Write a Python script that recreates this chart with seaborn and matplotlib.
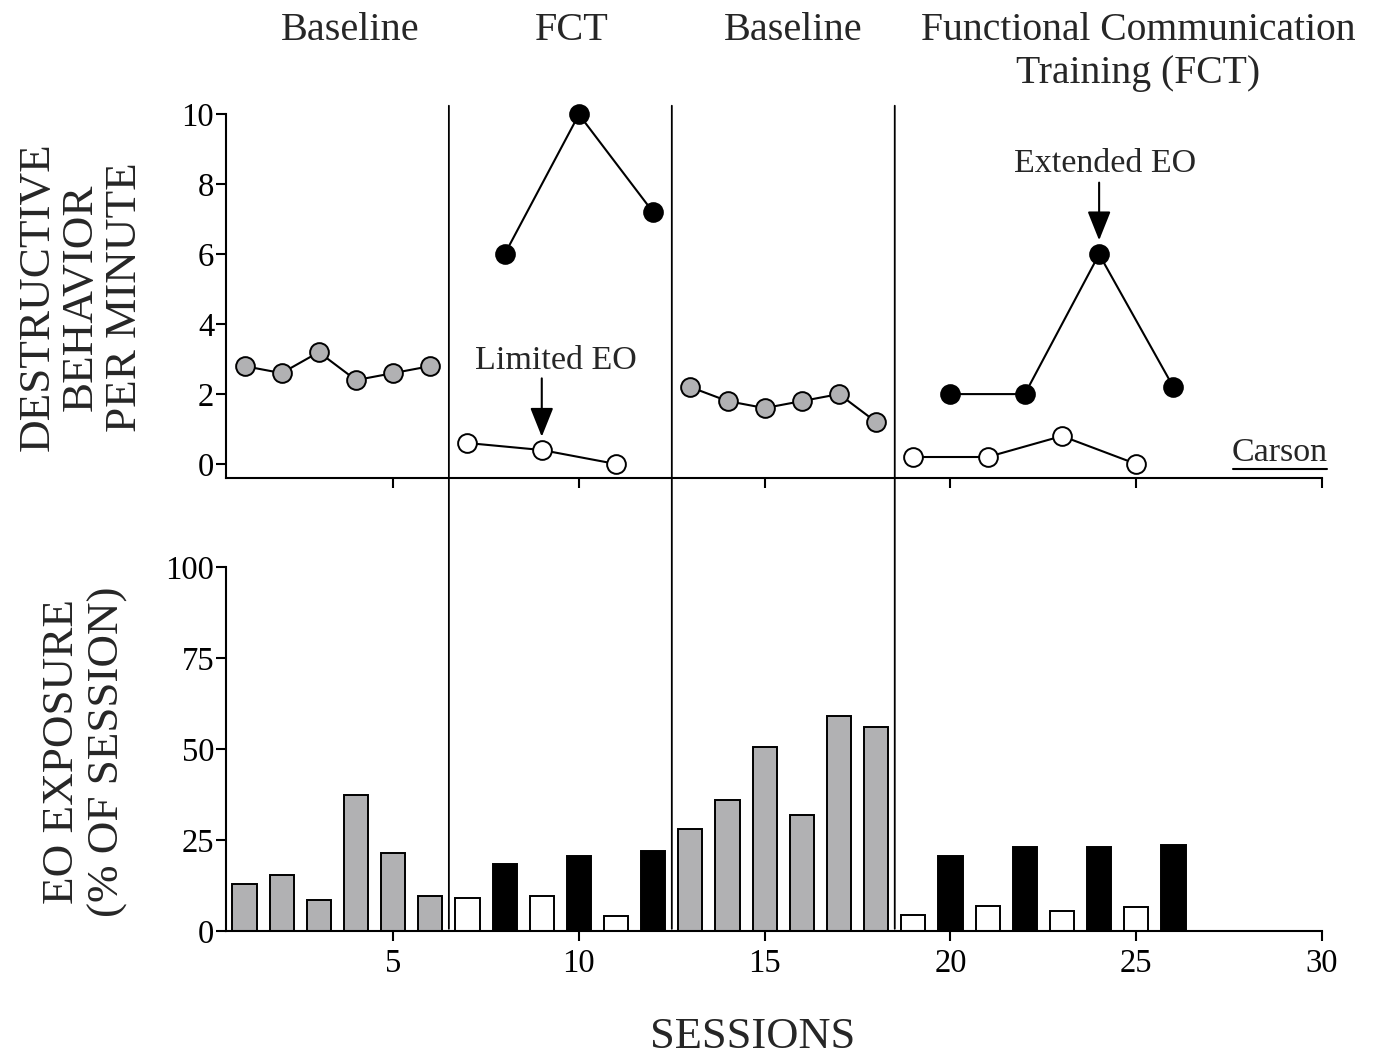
import matplotlib
matplotlib.use("Agg")
import matplotlib.pyplot as plt
import seaborn as sns
import pandas as pd
from matplotlib.patches import ConnectionPatch
from matplotlib.lines import Line2D

# ---------------- data ----------------
phase_labels = ["Baseline", "FCT", "Baseline", "Functional Communication\nTraining (FCT)"]
phase_changes = [6.5, 12.5, 18.5]

bl1_sessions = [1, 2, 3, 4, 5, 6]
bl1_rate = [2.8, 2.6, 3.2, 2.4, 2.6, 2.8]
fct1_limited_sessions = [7, 9, 11]
fct1_limited_rate = [0.6, 0.4, 0.0]
fct1_extended_sessions = [8, 10, 12]
fct1_extended_rate = [6.0, 10.0, 7.2]
bl2_sessions = [13, 14, 15, 16, 17, 18]
bl2_rate = [2.2, 1.8, 1.6, 1.8, 2.0, 1.2]
fct2_limited_sessions = [19, 21, 23, 25]
fct2_limited_rate = [0.2, 0.2, 0.8, 0.0]
fct2_extended_sessions = [20, 22, 24, 26]
fct2_extended_rate = [2.0, 2.0, 6.0, 2.2]

bar_sessions = list(range(1, 27))
bar_exposure = [13, 15.5, 8.5, 37.5, 21.5, 9.5,
                9, 18.5, 9.5, 20.5, 4, 22,
                28, 36, 50.5, 32, 59, 56,
                4.5, 20.5, 7, 23, 5.5, 23, 6.5, 23.5]
bar_condition = ["baseline"] * 6 + ["limited", "extended"] * 3 + ["baseline"] * 6 + ["limited", "extended"] * 4

x_ticks = [5, 10, 15, 20, 25, 30]
top_yticks = [0, 2, 4, 6, 8, 10]
bot_yticks = [0, 25, 50, 75, 100]

# ---------------- style ----------------
sns.set_style("ticks")
plt.rcParams["font.family"] = ["Liberation Serif", "DejaVu Serif"]
GRAY = "#b1b1b3"
LW = 1.5

fig = plt.figure(figsize=(13.76, 10.61), dpi=100)
ax1 = fig.add_axes([0.1642, 0.5495, 0.7966, 0.3525])
ax2 = fig.add_axes([0.1642, 0.1225, 0.7966, 0.3431])

# ---------------- top panel ----------------
series = [
    (bl1_sessions, bl1_rate, GRAY),
    (fct1_limited_sessions, fct1_limited_rate, "white"),
    (fct1_extended_sessions, fct1_extended_rate, "black"),
    (bl2_sessions, bl2_rate, GRAY),
    (fct2_limited_sessions, fct2_limited_rate, "white"),
    (fct2_extended_sessions, fct2_extended_rate, "black"),
]
for xs, ys, fc in series:
    sns.lineplot(x=xs, y=ys, ax=ax1, color="black", linewidth=LW, marker="o",
                 markersize=13.5, markerfacecolor=fc, markeredgecolor="black",
                 markeredgewidth=1.4, clip_on=False, zorder=3)

ax1.set_xlim(0.5, 30)
ax1.set_ylim(-0.4, 10.3)
ax1.set_xticks(x_ticks)
ax1.set_xticklabels([])
ax1.set_yticks(top_yticks)
ax1.spines["top"].set_visible(False)
ax1.spines["right"].set_visible(False)
ax1.spines["left"].set_bounds(-0.4, 10)
ax1.set_xlabel("")
ax1.set_ylabel("")

# annotations
arrow_style = "-|>,head_length=0.5,head_width=0.2"
ax1.annotate("", xy=(9, 0.78), xytext=(9, 2.45),
             arrowprops=dict(arrowstyle=arrow_style, color="black", lw=LW,
                             mutation_scale=36, shrinkA=0, shrinkB=0))
ax1.text(9.38, 2.96, "Limited EO", ha="center", va="center", fontsize=24.5)
ax1.annotate("", xy=(24, 6.4), xytext=(24, 8.05),
             arrowprops=dict(arrowstyle=arrow_style, color="black", lw=LW,
                             mutation_scale=36, shrinkA=0, shrinkB=0))
ax1.text(24.17, 8.58, "Extended EO", ha="center", va="center", fontsize=24.5)

ax1.text(30.15, 0.08, "Carson", ha="right", va="baseline", fontsize=24.5, clip_on=False)
ax1.add_line(Line2D([27.6, 30.12], [-0.15, -0.15], color="black", lw=1.5, clip_on=False))

# ---------------- bottom panel ----------------
df = pd.DataFrame({"session": bar_sessions, "exposure": bar_exposure, "cond": bar_condition})
palette = {"baseline": GRAY, "limited": "white", "extended": "black"}
sns.barplot(data=df, x="session", y="exposure", hue="cond", palette=palette,
            native_scale=True, dodge=False, width=0.65, edgecolor="black",
            linewidth=1.4, saturation=1, legend=False, ax=ax2, errorbar=None, zorder=2)

ax2.set_xlim(0.5, 30)
ax2.set_ylim(0, 100)
ax2.set_xticks(x_ticks)
ax2.set_xticklabels([str(t) for t in x_ticks])
ax2.set_yticks(bot_yticks)
ax2.spines["top"].set_visible(False)
ax2.spines["right"].set_visible(False)
ax2.set_xlabel("")
ax2.set_ylabel("")

for ax in (ax1, ax2):
    for s in ("left", "bottom"):
        ax.spines[s].set_linewidth(LW)
        ax.spines[s].set_color("black")
    ax.tick_params(axis="both", direction="out", length=7.5, width=LW, color="black",
                   labelsize=23.5, labelcolor="black")
    ax.tick_params(axis="y", pad=1)
    ax.tick_params(axis="x", pad=5)

# phase change lines spanning both panels
for xc in phase_changes:
    cp = ConnectionPatch(xyA=(xc, 10.25), coordsA=ax1.transData,
                         xyB=(xc, 0.6), coordsB=ax2.transData,
                         color="black", lw=1.3, zorder=5)
    fig.add_artist(cp)

# phase labels
label_x = [350, 572, 793, 1138]
for lab, px in zip(phase_labels, label_x):
    if "\n" in lab:
        fig.text(px / 1376, 1 - 12 / 1061, lab, ha="center", va="top",
                 fontsize=28.5, linespacing=1.2, multialignment="center")
    else:
        fig.text(px / 1376, 1 - 31 / 1061, lab, ha="center", va="center", fontsize=29)

# axis titles
fig.text(81 / 1376, 1 - 297 / 1061, "DESTRUCTIVE\nBEHAVIOR\nPER MINUTE", rotation=90,
         ha="center", va="center", fontsize=32.5, multialignment="center", linespacing=1.12)
fig.text(85 / 1376, 1 - 752 / 1061, "EO EXPOSURE\n(% OF SESSION)", rotation=90,
         ha="center", va="center", fontsize=32.5, multialignment="center", linespacing=1.2)
fig.text(753 / 1376, 1 - 1037 / 1061, "SESSIONS", ha="center", va="center", fontsize=32)

fig.savefig("out.png", dpi=100, facecolor="white")
